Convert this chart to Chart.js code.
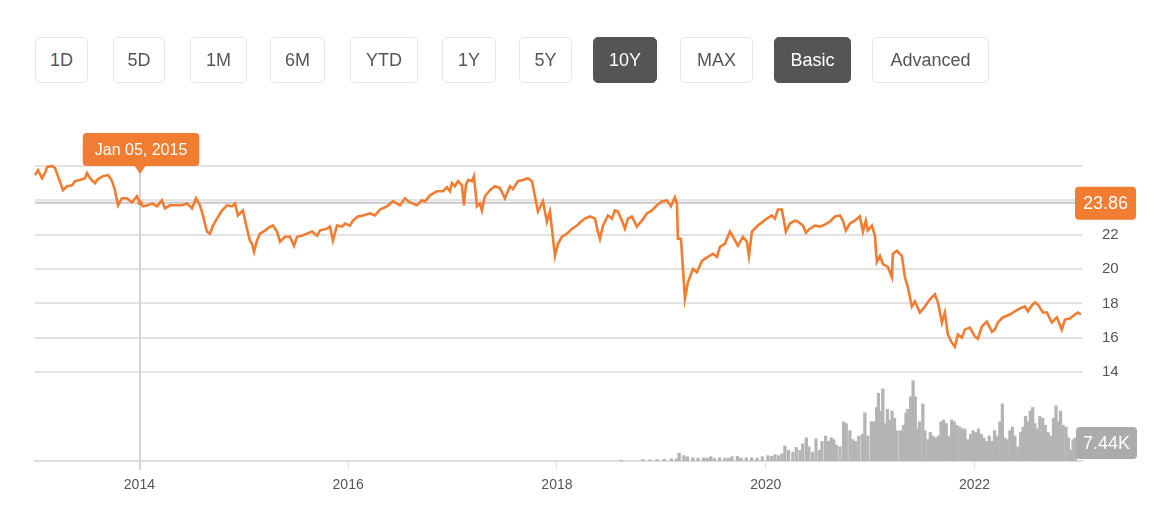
<!DOCTYPE html>
<html>
<head>
<meta charset="utf-8">
<title>10Y price chart</title>
<script src="https://cdn.jsdelivr.net/npm/chart.js@4.4.1/dist/chart.umd.min.js"></script>
<style>
  body { margin: 0; background: #fff; font-family: "Liberation Sans", Arial, sans-serif; }
  #wrap { position: relative; width: 1156px; height: 517px; overflow: hidden; }
  #chart { position: absolute; left: 0; top: 0; }
  .btn {
    position: absolute; top: 37px; height: 46px; box-sizing: border-box;
    border: 1px solid #e6e6e6; border-radius: 5px; background: #fff;
    color: #555; font-size: 18px; line-height: 44px; text-align: center;
  }
  .btn.on { background: #555; border-color: #555; color: #fff; }
</style>
</head>
<body>
<div id="wrap">
  <canvas id="chart" width="1156" height="517"></canvas>
  <div class="btn" style="left:35px;width:53px">1D</div>
  <div class="btn" style="left:113px;width:52px">5D</div>
  <div class="btn" style="left:190px;width:57px">1M</div>
  <div class="btn" style="left:270px;width:55px">6M</div>
  <div class="btn" style="left:350px;width:68px">YTD</div>
  <div class="btn" style="left:442px;width:54px">1Y</div>
  <div class="btn" style="left:519px;width:53px">5Y</div>
  <div class="btn on" style="left:593px;width:64px">10Y</div>
  <div class="btn" style="left:680px;width:73px">MAX</div>
  <div class="btn on" style="left:774px;width:77px">Basic</div>
  <div class="btn" style="left:872px;width:117px">Advanced</div>
</div>
<script>
// Precio (años decimales)
const priceYears = [
  2013.000, 2013.029, 2013.067, 2013.096, 2013.115, 2013.163, 2013.192, 2013.220, 2013.268, 2013.307,
  2013.354, 2013.383, 2013.431, 2013.479, 2013.498, 2013.527, 2013.575, 2013.603, 2013.651, 2013.699,
  2013.738, 2013.766, 2013.795, 2013.833, 2013.881, 2013.929, 2013.977, 2014.006, 2014.034, 2014.082,
  2014.121, 2014.169, 2014.216, 2014.245, 2014.293, 2014.341, 2014.408, 2014.456, 2014.504, 2014.542,
  2014.580, 2014.609, 2014.647, 2014.676, 2014.705, 2014.743, 2014.791, 2014.839, 2014.887, 2014.916,
  2014.944, 2014.992, 2015.031, 2015.059, 2015.079, 2015.098, 2015.126, 2015.155, 2015.203, 2015.251,
  2015.280, 2015.318, 2015.347, 2015.395, 2015.443, 2015.481, 2015.510, 2015.557, 2015.605, 2015.653,
  2015.701, 2015.730, 2015.797, 2015.826, 2015.854, 2015.893, 2015.941, 2015.969, 2016.017, 2016.046,
  2016.094, 2016.142, 2016.209, 2016.257, 2016.305, 2016.372, 2016.429, 2016.496, 2016.544, 2016.592,
  2016.659, 2016.707, 2016.736, 2016.784, 2016.851, 2016.908, 2016.946, 2016.975, 2016.994, 2017.023,
  2017.052, 2017.090, 2017.109, 2017.128, 2017.148, 2017.186, 2017.205, 2017.234, 2017.262, 2017.281,
  2017.310, 2017.358, 2017.406, 2017.454, 2017.502, 2017.550, 2017.578, 2017.626, 2017.674, 2017.722,
  2017.760, 2017.789, 2017.818, 2017.866, 2017.904, 2017.933, 2017.952, 2017.981, 2018.010, 2018.048,
  2018.096, 2018.144, 2018.192, 2018.220, 2018.268, 2018.316, 2018.364, 2018.393, 2018.412, 2018.441,
  2018.489, 2018.527, 2018.556, 2018.584, 2018.623, 2018.651, 2018.680, 2018.718, 2018.766, 2018.814,
  2018.862, 2018.910, 2018.958, 2019.006, 2019.054, 2019.092, 2019.130, 2019.150, 2019.159, 2019.188,
  2019.226, 2019.255, 2019.303, 2019.341, 2019.389, 2019.446, 2019.494, 2019.533, 2019.561, 2019.609,
  2019.657, 2019.686, 2019.734, 2019.782, 2019.820, 2019.839, 2019.868, 2019.925, 2019.973, 2020.011,
  2020.059, 2020.088, 2020.117, 2020.155, 2020.193, 2020.232, 2020.280, 2020.308, 2020.356, 2020.385,
  2020.423, 2020.471, 2020.519, 2020.567, 2020.615, 2020.663, 2020.711, 2020.739, 2020.768, 2020.806,
  2020.854, 2020.902, 2020.931, 2020.959, 2020.978, 2021.017, 2021.046, 2021.065, 2021.094, 2021.123,
  2021.170, 2021.209, 2021.218, 2021.257, 2021.305, 2021.333, 2021.362, 2021.400, 2021.429, 2021.477,
  2021.525, 2021.573, 2021.621, 2021.649, 2021.688, 2021.716, 2021.745, 2021.783, 2021.812, 2021.841,
  2021.879, 2021.908, 2021.956, 2022.004, 2022.033, 2022.071, 2022.119, 2022.167, 2022.195, 2022.224,
  2022.272, 2022.339, 2022.387, 2022.435, 2022.483, 2022.512, 2022.550, 2022.579, 2022.607, 2022.655,
  2022.693, 2022.741, 2022.789, 2022.837, 2022.866, 2022.914, 2022.962, 2022.990, 2023.019
];
const priceValues = [
  25.47, 25.76, 25.29, 25.59, 25.94, 26.00, 25.88, 25.41, 24.59, 24.82,
  24.88, 25.12, 25.18, 25.29, 25.59, 25.29, 25.00, 25.24, 25.41, 25.47,
  25.12, 24.59, 23.71, 24.12, 24.12, 23.88, 24.24, 23.86, 23.65, 23.71,
  23.82, 23.65, 24.00, 23.53, 23.71, 23.71, 23.71, 23.82, 23.53, 24.12,
  23.71, 23.12, 22.18, 22.06, 22.53, 22.94, 23.41, 23.71, 23.65, 23.82,
  23.12, 23.41, 22.35, 21.65, 21.47, 21.00, 21.65, 22.06, 22.24, 22.47,
  22.53, 22.18, 21.59, 21.88, 21.88, 21.35, 21.88, 21.94, 22.06, 22.18,
  21.94, 22.24, 22.35, 22.47, 21.65, 22.53, 22.47, 22.65, 22.53, 22.82,
  23.06, 23.12, 23.24, 23.12, 23.47, 23.65, 23.94, 23.71, 24.12, 23.88,
  23.71, 24.00, 23.94, 24.29, 24.53, 24.53, 24.76, 24.53, 25.00, 24.82,
  25.12, 24.88, 23.71, 24.88, 25.18, 25.12, 25.41, 23.65, 23.82, 23.41,
  24.24, 24.59, 24.82, 24.71, 24.12, 24.82, 24.65, 25.12, 25.18, 25.29,
  25.12, 24.24, 23.35, 23.94, 22.76, 23.35, 22.35, 20.76, 21.47, 21.88,
  22.06, 22.35, 22.53, 22.71, 22.94, 23.06, 22.94, 22.18, 21.76, 22.53,
  23.12, 22.94, 23.41, 23.35, 22.82, 22.35, 22.94, 23.06, 22.47, 22.82,
  23.24, 23.41, 23.71, 23.94, 24.00, 23.65, 24.18, 23.82, 21.76, 21.76,
  18.29, 19.24, 20.00, 19.82, 20.47, 20.71, 20.88, 20.71, 21.29, 21.47,
  22.18, 21.88, 21.35, 21.88, 21.59, 20.76, 22.18, 22.53, 22.76, 22.94,
  23.12, 22.94, 23.47, 23.47, 22.18, 22.65, 22.82, 22.76, 22.53, 22.12,
  22.35, 22.53, 22.47, 22.59, 22.76, 23.06, 23.12, 22.82, 22.24, 22.65,
  22.82, 23.06, 22.18, 22.82, 22.24, 22.53, 21.94, 20.41, 20.76, 20.29,
  20.12, 19.53, 20.88, 21.06, 20.76, 19.53, 18.94, 17.82, 18.12, 17.47,
  17.82, 18.24, 18.53, 18.06, 16.88, 17.47, 16.18, 15.71, 15.47, 16.18,
  16.00, 16.47, 16.59, 16.06, 15.94, 16.65, 16.94, 16.35, 16.47, 16.88,
  17.18, 17.35, 17.53, 17.71, 17.82, 17.53, 17.88, 18.06, 17.94, 17.47,
  17.47, 16.88, 17.18, 16.47, 17.06, 17.12, 17.35, 17.47, 17.35
];

// Volumen (miles)
const volumeYears = [
  2018.617, 2018.823, 2018.891, 2018.959, 2019.028, 2019.096, 2019.147, 2019.171, 2019.216, 2019.250,
  2019.302, 2019.352, 2019.404, 2019.438, 2019.472, 2019.507, 2019.557, 2019.609, 2019.644, 2019.677,
  2019.729, 2019.763, 2019.814, 2019.866, 2019.917, 2019.968, 2020.020, 2020.054, 2020.088, 2020.123,
  2020.156, 2020.184, 2020.218, 2020.260, 2020.293, 2020.328, 2020.355, 2020.389, 2020.413, 2020.447,
  2020.482, 2020.515, 2020.539, 2020.574, 2020.601, 2020.628, 2020.652, 2020.676, 2020.711, 2020.745,
  2020.772, 2020.806, 2020.834, 2020.861, 2020.892, 2020.926, 2020.950, 2020.978, 2021.012, 2021.039,
  2021.063, 2021.080, 2021.098, 2021.122, 2021.142, 2021.166, 2021.190, 2021.210, 2021.234, 2021.258,
  2021.292, 2021.320, 2021.344, 2021.361, 2021.388, 2021.412, 2021.433, 2021.449, 2021.473, 2021.505,
  2021.525, 2021.553, 2021.577, 2021.601, 2021.627, 2021.655, 2021.679, 2021.703, 2021.730, 2021.758,
  2021.782, 2021.806, 2021.832, 2021.860, 2021.884, 2021.908, 2021.936, 2021.963, 2021.987, 2022.011,
  2022.038, 2022.065, 2022.089, 2022.113, 2022.141, 2022.168, 2022.192, 2022.216, 2022.243, 2022.267,
  2022.287, 2022.311, 2022.339, 2022.363, 2022.387, 2022.415, 2022.442, 2022.466, 2022.489, 2022.517,
  2022.534, 2022.558, 2022.579, 2022.602, 2022.626, 2022.654, 2022.678, 2022.705, 2022.729, 2022.757,
  2022.781, 2022.801, 2022.824, 2022.849, 2022.876, 2022.900, 2022.927, 2022.944, 2022.968
];
const volumeValues = [
  0.23, 0.46, 0.35, 0.46, 0.58, 0.69, 0.69, 2.54, 1.73, 1.38,
  1.04, 0.92, 1.04, 0.92, 1.38, 0.92, 1.04, 0.92, 0.92, 1.38,
  1.50, 0.92, 1.04, 1.04, 0.92, 1.38, 1.73, 1.50, 2.08, 1.73,
  2.31, 4.85, 3.46, 2.89, 4.39, 3.46, 5.54, 7.50, 4.62, 2.89,
  7.15, 3.46, 6.35, 8.08, 6.35, 7.50, 6.92, 5.19, 4.62, 12.69,
  12.12, 9.81, 6.92, 6.35, 8.08, 8.66, 15.58, 8.08, 12.69, 12.69,
  17.31, 21.93, 16.16, 23.31, 12.12, 16.73, 13.27, 16.16, 13.85, 9.81,
  9.81, 11.54, 15.58, 16.73, 20.77, 25.97, 20.77, 10.39, 12.69, 18.46,
  9.81, 6.92, 9.23, 8.08, 7.50, 8.08, 12.69, 13.27, 12.12, 8.08,
  13.27, 12.69, 11.54, 10.96, 10.39, 10.39, 6.92, 8.66, 9.81, 9.23,
  10.39, 8.66, 7.50, 6.35, 8.08, 6.35, 9.81, 8.08, 12.69, 18.46,
  7.50, 6.92, 9.81, 10.96, 8.08, 4.62, 9.23, 10.96, 14.42, 12.69,
  16.16, 17.31, 12.12, 10.39, 14.42, 13.85, 11.54, 9.23, 8.08, 13.85,
  17.89, 12.69, 16.16, 11.54, 10.96, 7.50, 3.46, 6.92, 7.44
];

// Ejes
const yearTicks = [2014, 2016, 2018, 2020, 2022];
const priceTicks = [14, 16, 18, 20, 22, 24, 26];

// Punto señalado por el cursor
const hoverIndex = 27;
const hoverLabel = 'Jan 05, 2015';

const naranja = '#f07d32';
const FONT = "'Liberation Sans', Arial, sans-serif";
Chart.defaults.font.family = FONT;

function cajaRedonda(ctx, x, y, w, h, r, color) {
  ctx.fillStyle = color;
  ctx.beginPath();
  ctx.roundRect(x, y, w, h, r);
  ctx.fill();
}

const cursorPlugin = {
  id: 'cursor',
  beforeDatasetsDraw(chart) {
    const { ctx, chartArea: a, scales } = chart;
    const px = scales.x.getPixelForValue(priceYears[hoverIndex]);
    const py = scales.y.getPixelForValue(priceValues[hoverIndex]);
    ctx.save();
    ctx.lineWidth = 2;
    ctx.strokeStyle = '#d4d4d4';
    ctx.beginPath();
    ctx.moveTo(px, a.top);
    ctx.lineTo(px, a.bottom + 9);
    ctx.stroke();
    ctx.strokeStyle = '#c9c9c9';
    ctx.beginPath();
    ctx.moveTo(a.left, py);
    ctx.lineTo(a.right, py);
    ctx.stroke();
    ctx.restore();
  },
  afterDraw(chart) {
    const { ctx, chartArea: a, scales } = chart;
    const px = scales.x.getPixelForValue(priceYears[hoverIndex]);
    const py = scales.y.getPixelForValue(priceValues[hoverIndex]);
    ctx.save();

    // punto
    ctx.fillStyle = naranja;
    ctx.beginPath();
    ctx.arc(px, py, 2.5, 0, Math.PI * 2);
    ctx.fill();

    // etiqueta de fecha
    ctx.font = '16px ' + FONT;
    const tw = ctx.measureText(hoverLabel).width;
    const bw = tw + 24, bh = 33;
    const bx = px + 1 - bw / 2, by = a.top - bh;
    cajaRedonda(ctx, bx, by, bw, bh, 4, naranja);
    ctx.beginPath();
    ctx.moveTo(px - 6, a.top - 1);
    ctx.lineTo(px + 6, a.top - 1);
    ctx.lineTo(px, a.top + 8);
    ctx.closePath();
    ctx.fill();
    ctx.fillStyle = '#fff';
    ctx.textAlign = 'center';
    ctx.textBaseline = 'middle';
    ctx.fillText(hoverLabel, bx + bw / 2, by + bh / 2 + 1);

    // etiqueta de precio
    const precio = priceValues[hoverIndex].toFixed(2);
    ctx.font = '18px ' + FONT;
    const pw = ctx.measureText(precio).width + 16;
    cajaRedonda(ctx, a.right - 7, py - 16, pw, 33, 4, naranja);
    ctx.fillStyle = '#fff';
    ctx.fillText(precio, a.right - 7 + pw / 2, py + 1);

    // etiqueta de volumen
    const ultimo = volumeValues[volumeValues.length - 1];
    const vy = scales.yv.getPixelForValue(ultimo) + 5;
    const vtxt = ultimo.toFixed(2) + 'K';
    const vw = ctx.measureText(vtxt).width + 14;
    cajaRedonda(ctx, a.right - 6, vy - 16, vw, 32, 4, '#ababab');
    ctx.fillStyle = '#fff';
    ctx.fillText(vtxt, a.right - 6 + vw / 2, vy + 1);

    ctx.restore();
  }
};

new Chart(document.getElementById('chart').getContext('2d'), {
  type: 'line',
  data: {
    datasets: [
      {
        label: 'Precio',
        data: priceYears.map((x, i) => ({ x: x, y: priceValues[i] })),
        borderColor: naranja,
        borderWidth: 2.6,
        pointRadius: 0,
        tension: 0,
        clip: false,
        yAxisID: 'y',
        order: 0
      },
      {
        type: 'bar',
        label: 'Volumen',
        data: volumeYears.map((x, i) => ({ x: x, y: volumeValues[i] })),
        backgroundColor: '#b4b4b4',
        barThickness: 2.6,
        grouped: false,
        yAxisID: 'yv',
        order: 1
      }
    ]
  },
  options: {
    responsive: false,
    animation: false,
    events: [],
    layout: { padding: { left: 35, top: 166, right: 0, bottom: 0 } },
    plugins: { legend: { display: false }, tooltip: { enabled: false } },
    scales: {
      x: {
        type: 'linear',
        min: 2013,
        max: 2023.03,
        offset: false,
        afterBuildTicks: axis => { axis.ticks = yearTicks.map(v => ({ value: v })); },
        afterFit: axis => { axis.height = 56; },
        grid: { offset: false, drawOnChartArea: false, color: '#e2e2e2', tickLength: 8 },
        border: { color: '#dedede', width: 2 },
        ticks: { color: '#555', font: { size: 14 }, padding: 8, callback: v => String(v) }
      },
      y: {
        position: 'right',
        min: 8.82,
        max: 26,
        afterBuildTicks: axis => { axis.ticks = priceTicks.map(v => ({ value: v })); },
        afterFit: axis => { axis.width = 74; },
        grid: { color: '#e3e3e3', lineWidth: 2, drawTicks: false },
        border: { display: false },
        ticks: { color: '#555', font: { size: 15 }, padding: 20, callback: v => (v === 26 ? '' : String(v)) }
      },
      yv: {
        display: false,
        min: 0,
        max: 95.4
      }
    }
  },
  plugins: [cursorPlugin]
});
</script>
</body>
</html>
